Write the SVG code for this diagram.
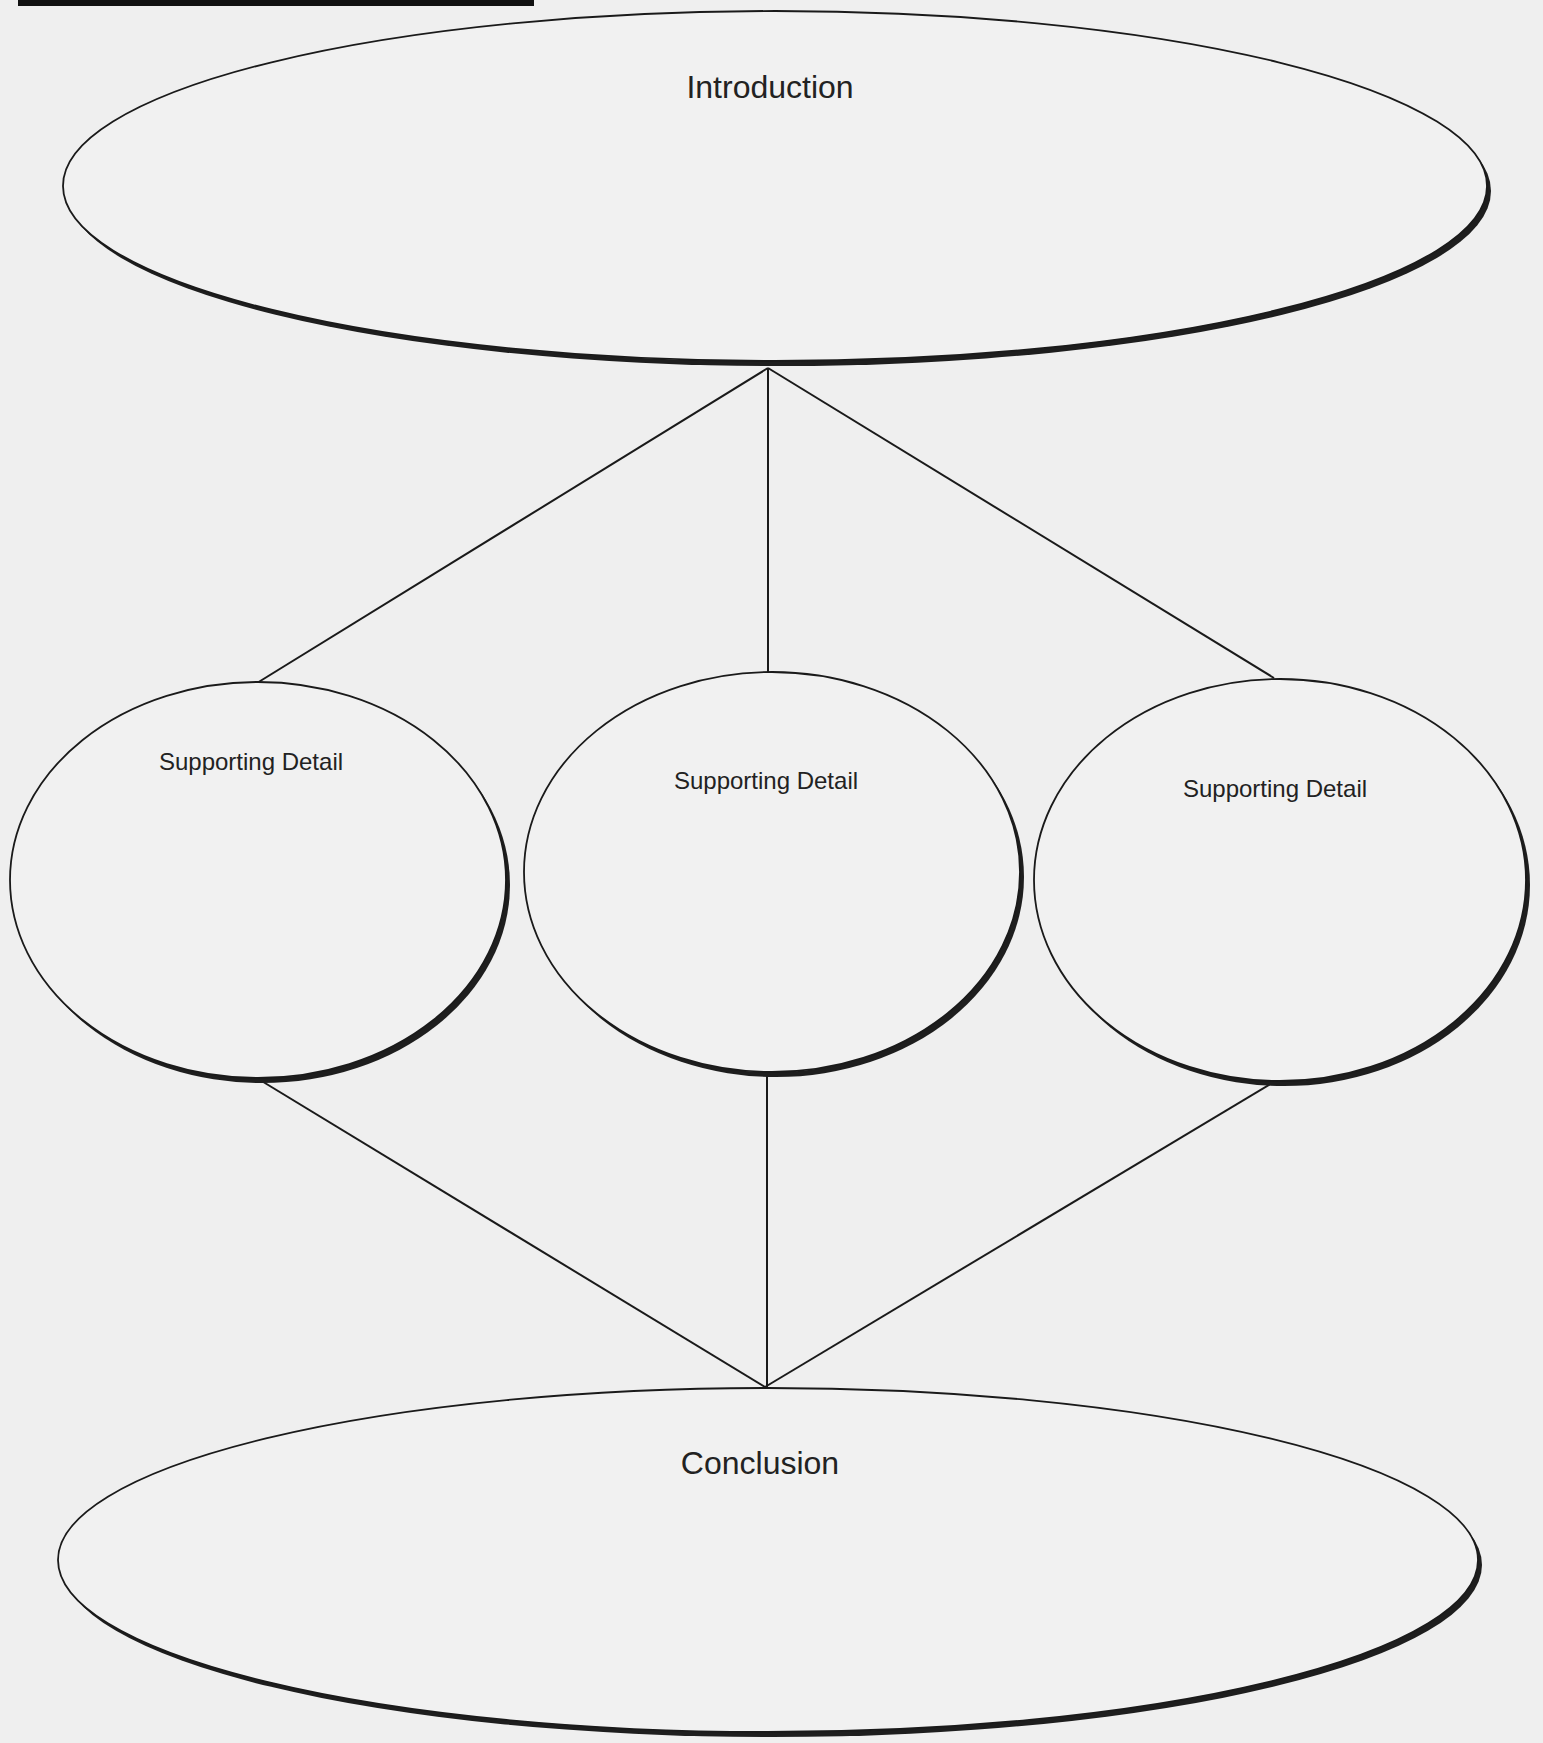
<svg xmlns="http://www.w3.org/2000/svg" width="1543" height="1743" viewBox="0 0 1543 1743">
<style>
.bg{fill:#efefef}
.shadow{fill:#1e1e1e}
.node{fill:#f1f1f1;stroke:#1a1a1a;stroke-width:1.8}
.conn{stroke:#1a1a1a;stroke-width:2;fill:none}
.lbl{font-family:"Liberation Sans",Arial,sans-serif;fill:#222;text-anchor:middle}
.big{font-size:32px}
.small{font-size:24px}
</style>
<rect class="bg" x="0" y="0" width="1543" height="1743"/>
<rect x="18" y="0" width="516" height="6" fill="#111"/>
<g id="connectors">
<line class="conn" x1="768" y1="368" x2="257" y2="683"/>
<line class="conn" x1="768" y1="368" x2="768" y2="672"/>
<line class="conn" x1="768" y1="368" x2="1274" y2="678"/>
<line class="conn" x1="260" y1="1080" x2="765" y2="1387"/>
<line class="conn" x1="767" y1="1073" x2="767" y2="1387"/>
<line class="conn" x1="1272" y1="1083" x2="765" y2="1387"/>
</g>
<g id="introduction">
<ellipse class="shadow" cx="779" cy="191" rx="712" ry="175"/>
<ellipse class="node" cx="775" cy="186" rx="712" ry="175"/>
<text class="lbl big" x="770" y="98">Introduction</text>
</g>
<g id="detail-left">
<ellipse class="shadow" cx="262" cy="885" rx="248" ry="198"/>
<ellipse class="node" cx="258" cy="880" rx="248" ry="198"/>
<text class="lbl small" x="251" y="770">Supporting Detail</text>
</g>
<g id="detail-middle">
<ellipse class="shadow" cx="776" cy="877" rx="248" ry="200"/>
<ellipse class="node" cx="772" cy="872" rx="248" ry="200"/>
<text class="lbl small" x="766" y="789">Supporting Detail</text>
</g>
<g id="detail-right">
<ellipse class="shadow" cx="1284" cy="885" rx="246" ry="201"/>
<ellipse class="node" cx="1280" cy="880" rx="246" ry="201"/>
<text class="lbl small" x="1275" y="797">Supporting Detail</text>
</g>
<g id="conclusion">
<ellipse class="shadow" cx="772" cy="1565" rx="710" ry="172"/>
<ellipse class="node" cx="768" cy="1560" rx="710" ry="172"/>
<text class="lbl big" x="760" y="1474">Conclusion</text>
</g>
</svg>
